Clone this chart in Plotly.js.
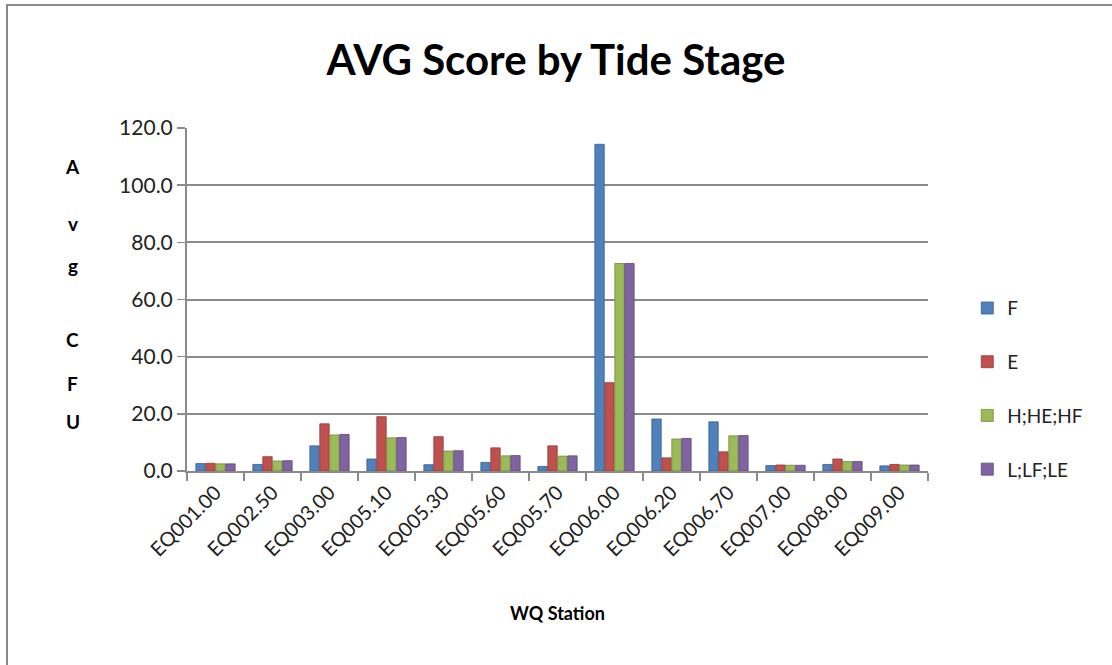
<!DOCTYPE html>
<html>
<head>
<meta charset="utf-8">
<script src="https://cdn.plot.ly/plotly-3.0.1.min.js"></script>
<style>
html,body{margin:0;padding:0;background:#fff;}
#frame{position:absolute;left:6px;top:4px;width:1200px;height:700px;border-top:2px solid #8a8a8a;border-left:2px solid #8a8a8a;}
#chart{position:absolute;left:0;top:0;width:1112px;height:665px;}
</style>
</head>
<body>
<div id="frame"></div>
<div id="chart"></div>
<script>
var stations = ["EQ001.00","EQ002.50","EQ003.00","EQ005.10","EQ005.30","EQ005.60","EQ005.70","EQ006.00","EQ006.20","EQ006.70","EQ007.00","EQ008.00","EQ009.00"];
var seriesNames = ["F","E","H;HE;HF","L;LF;LE"];
var valF = [2.6, 2.3, 8.8, 4.2, 2.2, 3.0, 1.6, 114.3, 18.2, 17.2, 1.9, 2.3, 1.8];
var valE = [2.7, 5.0, 16.5, 19.0, 12.0, 8.1, 8.8, 30.9, 4.6, 6.7, 2.1, 4.2, 2.3];
var valH = [2.5, 3.5, 12.6, 11.6, 7.0, 5.3, 5.2, 72.6, 11.2, 12.3, 2.0, 3.3, 2.1];
var valL = [2.5, 3.6, 12.8, 11.7, 7.1, 5.4, 5.3, 72.6, 11.4, 12.4, 2.0, 3.3, 2.1];
var yTicks = [0, 20, 40, 60, 80, 100, 120];
var yTickText = ["0.0","20.0","40.0","60.0","80.0","100.0","120.0"];
var colors = ["#4F81BD","#C0504D","#9BBB59","#8064A2"];
var lineColors = ["#385d8a","#8c3836","#71893f","#5c4776"];

var values = [valF, valE, valH, valL];
var traces = values.map(function(v, i){
  return {
    type: "bar",
    name: seriesNames[i],
    x: stations,
    y: v,
    legendgroup: "g" + i,
    marker: {color: colors[i], line: {color: lineColors[i], width: 0.8}}
  };
});

var font = "Lato, 'Open Sans', sans-serif";
var letters = [["A",0.889],["v",0.723],["g",0.600],["C",0.382],["F",0.254],["U",0.143]];
var annotations = letters.map(function(l){
  return {text: "<b>" + l[0] + "</b>", xref: "paper", yref: "paper", x: -0.154, y: l[1],
          showarrow: false, font: {family: font, size: 19, color: "#000"}, xanchor: "center", yanchor: "middle"};
});

var layout = {
  width: 1112, height: 665,
  paper_bgcolor: "rgba(0,0,0,0)",
  plot_bgcolor: "rgba(0,0,0,0)",
  margin: {l: 187, r: 184, t: 128, b: 194},
  title: {text: "<b>AVG Score by Tide Stage</b>", x: 0.5, xref: "container", y: 0.91, yref: "container", yanchor: "middle",
          font: {family: font, size: 42, color: "#000"}},
  barmode: "group",
  bargap: 0.3,
  bargroupgap: 0.06,
  showlegend: true,
  legend: {x: 1.053, y: 0.24, xanchor: "left", yanchor: "middle", tracegroupgap: 26,
           font: {family: font, size: 19, color: "#222"}, itemwidth: 30},
  xaxis: {
    type: "category",
    tickangle: -45,
    automargin: false,
    tickfont: {family: font, size: 20, color: "#222"},
    ticks: "outside", tickson: "boundaries", ticklen: 8, tickcolor: "#8a8a8a", tickwidth: 1.5,
    showline: true, linecolor: "#8a8a8a", linewidth: 2,
    showgrid: false,
    title: {text: "<b>WQ Station</b>", font: {family: font, size: 18, color: "#000"}, standoff: 48}
  },
  yaxis: {
    range: [0, 120],
    automargin: false,
    tickvals: yTicks,
    ticktext: yTickText,
    tickfont: {family: font, size: 21, color: "#222"},
    ticks: "outside", ticklen: 8, tickcolor: "#8a8a8a", tickwidth: 1.5,
    showline: true, linecolor: "#8a8a8a", linewidth: 2,
    showgrid: true, gridcolor: "#8a8a8a", gridwidth: 2,
    zeroline: false
  },
  annotations: annotations
};

Plotly.newPlot("chart", traces, layout, {displayModeBar: false, staticPlot: true});
</script>
</body>
</html>
